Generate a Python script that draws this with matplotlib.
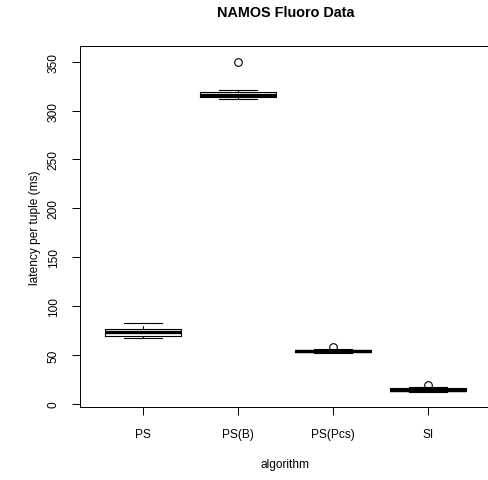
import matplotlib.pyplot as plt

plt.rcParams['font.family'] = ['Liberation Sans', 'DejaVu Sans']

algorithms = ["PS", "PS(B)", "PS(Pcs)", "SI"]
whisker_low = [68, 311.5, 52, 12]
q1 = [70, 313.5, 53, 13.5]
median = [73.5, 315.5, 54, 14.5]
q3 = [77, 319, 55, 16]
whisker_high = [83, 321, 56, 17]
outliers = [[], [350], [58.5], [19.5]]

stats = []
for i in range(len(algorithms)):
    stats.append({'label': algorithms[i], 'whislo': whisker_low[i], 'q1': q1[i],
                  'med': median[i], 'q3': q3[i], 'whishi': whisker_high[i],
                  'fliers': outliers[i]})

fig = plt.figure(figsize=(4.89, 4.81), dpi=100)
ax = fig.add_axes([80.3/489, 1-408/481, 410.4/489, 361/481])

ax.bxp(stats, positions=[1, 2, 3, 4], widths=0.8, capwidths=0.4,
       boxprops={'color': 'black', 'linewidth': 0.8},
       medianprops={'color': 'black', 'linewidth': 2.4},
       whiskerprops={'color': 'black', 'linewidth': 0.8, 'linestyle': (0, (3, 2))},
       capprops={'color': 'black', 'linewidth': 0.8},
       flierprops={'marker': 'o', 'markersize': 5.5, 'markerfacecolor': 'none',
                   'markeredgecolor': 'black', 'markeredgewidth': 0.8})

ax.set_xlim(0.34, 4.66)
ax.set_ylim(-3, 366)
ax.set_yticks([0, 50, 100, 150, 200, 250, 300, 350])
ax.set_yticklabels(['0', '50', '100', '150', '200', '250', '300', '350'],
                   rotation=90, va='center')
ax.tick_params(length=5.8, width=0.7, labelsize=8.6, pad=9)

for s in ax.spines.values():
    s.set_linewidth(0.7)

ax.set_xlabel("algorithm", fontsize=8.6, labelpad=13)
ax.set_ylabel("latency per tuple (ms)", fontsize=8.6, labelpad=5)
# title sits over the middle of the plot box, as R draws it
fig.text(285.5/489, 1-13/481, "NAMOS Fluoro Data", fontsize=10.4, fontweight='bold',
         ha='center', va='center')

plt.savefig("out.png", dpi=100)
